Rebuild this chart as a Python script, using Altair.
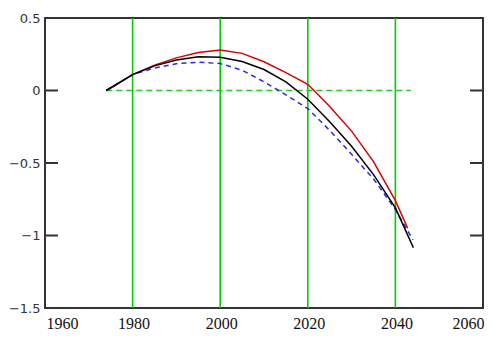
import altair as alt
import pandas as pd

# ---- data ----
red_years = [1974, 1980, 1985, 1990, 1995, 2000, 2005, 2010, 2015, 2020, 2025, 2030, 2035, 2040, 2042.8]
red_vals = [0, 0.11, 0.175, 0.225, 0.262, 0.28, 0.256, 0.198, 0.123, 0.043, -0.11, -0.28, -0.49, -0.76, -0.95]

black_years = [1974, 1980, 1985, 1990, 1995, 2000, 2005, 2010, 2015, 2020, 2025, 2030, 2035, 2040, 2044.1]
black_vals = [0, 0.11, 0.17, 0.21, 0.232, 0.23, 0.2, 0.145, 0.06, -0.06, -0.215, -0.385, -0.58, -0.81, -1.084]

blue_years = [1974, 1980, 1985, 1990, 1995, 2000, 2005, 2010, 2015, 2020, 2025, 2030, 2035, 2040, 2044]
blue_vals = [0, 0.11, 0.155, 0.185, 0.195, 0.186, 0.14, 0.06, -0.03, -0.125, -0.275, -0.44, -0.61, -0.82, -1.03]

zero_years = [1974, 2043.5]
zero_vals = [0, 0]

grid_years = [1980, 2000, 2020, 2040]
x_ticks = [1960, 1980, 2000, 2020, 2040, 2060]
y_ticks = [0.5, 0, -0.5, -1, -1.5]

W, H = 438, 290
xs = alt.Scale(domain=[1960, 2060], nice=False, zero=False)
ys = alt.Scale(domain=[-1.5, 0.5], nice=False, zero=False)

x_axis = alt.Axis(
    values=x_ticks, format="d", title=None, grid=False, ticks=False, domain=False,
    labelFlush=True, labelOffset=1, labelPadding=7, labelFont="Liberation Serif",
    labelFontSize=16, labelColor="#111")
y_axis = alt.Axis(
    values=y_ticks, format="~g", title=None, grid=False, ticks=False, tickSize=0,
    domain=False, labelPadding=5, labelFont="DejaVu Sans", labelFontSize=13,
    labelColor="#333")


def line_df(years, vals):
    return pd.DataFrame({"year": years, "val": vals})


grid = alt.Chart(pd.DataFrame({"year": grid_years})).mark_rule(
    color="#00cc00", strokeWidth=1.6
).encode(x=alt.X("year:Q", scale=xs, axis=x_axis))

tick_df = pd.DataFrame({"val": y_ticks})
left_ticks = alt.Chart(tick_df).mark_rule(color="#333", strokeWidth=2).encode(
    y=alt.Y("val:Q", scale=ys, axis=y_axis),
    x=alt.value(0), x2=alt.value(13)
)
right_ticks = alt.Chart(tick_df).mark_rule(color="#333", strokeWidth=2).encode(
    y=alt.Y("val:Q", scale=ys, axis=y_axis),
    x=alt.value(W - 13), x2=alt.value(W)
)


def series(years, vals, color, dash=None, width=1.5):
    kw = dict(color=color, strokeWidth=width)
    if dash:
        kw["strokeDash"] = dash
    return alt.Chart(line_df(years, vals)).mark_line(**kw).encode(
        x=alt.X("year:Q", scale=xs, axis=x_axis),
        y=alt.Y("val:Q", scale=ys, axis=y_axis),
        order="year:Q"
    )


zero_line = series(zero_years, zero_vals, "#22cc22", dash=[6, 4], width=1.5)
red = series(red_years, red_vals, "#dd0000")
blue = series(blue_years, blue_vals, "#2a2ae0", dash=[5, 4])
black = series(black_years, black_vals, "#000000")

chart = alt.layer(grid, zero_line, red, blue, black, left_ticks, right_ticks).properties(
    width=W, height=H,
    autosize=alt.AutoSizeParams(type="none"),
    padding={"left": 37, "top": 10, "right": 2, "bottom": 22},
).configure_view(stroke="#333", strokeWidth=2)

chart.save("out.html", embed_options={"renderer": "svg", "actions": False})
